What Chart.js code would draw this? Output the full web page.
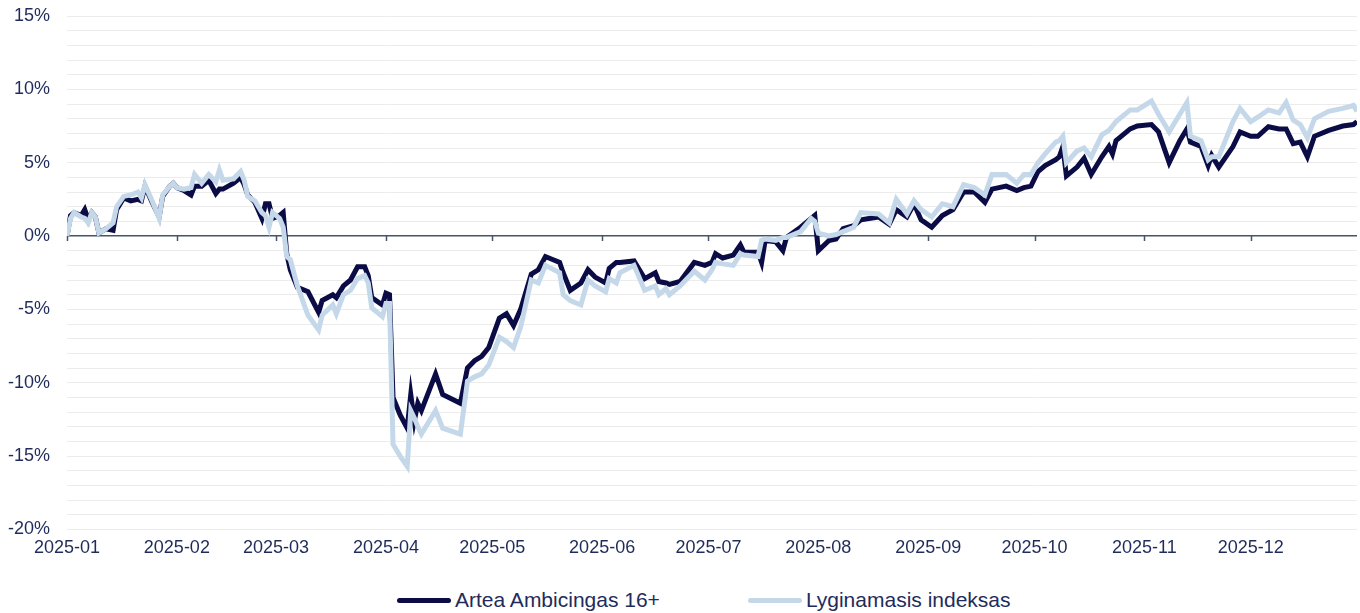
<!DOCTYPE html>
<html>
<head>
<meta charset="utf-8">
<title>Artea Ambicingas 16+</title>
<script src="https://cdn.jsdelivr.net/npm/chart.js@4.4.1/dist/chart.umd.min.js"></script>
<style>
  html, body { margin: 0; padding: 0; background: #fff; }
  #wrap { position: relative; width: 1360px; height: 571px; }
  #legend {
    position: absolute; top: 586px; left: 0; width: 1360px; height: 28px;
    display: flex; align-items: center; padding-left: 397px; box-sizing: border-box;
    font: 21px "Liberation Sans", Arial, sans-serif; color: #1f2b5b;
  }
  .item { display: flex; align-items: center; margin-right: 88px; }
  .swatch { width: 54px; height: 5px; border-radius: 3px; margin-right: 4px; }
</style>
</head>
<body>
<div id="wrap"><canvas id="chart"></canvas></div>
<div id="legend"></div>
<script>
// month axis labels
var monthLabels = ['2025-01', '2025-02', '2025-03', '2025-04', '2025-05', '2025-06',
                   '2025-07', '2025-08', '2025-09', '2025-10', '2025-11', '2025-12'];

// observation dates (2025)
var dates = [
  '01-01','01-02','01-03','01-05','01-06','01-07','01-08','01-09','01-10','01-12','01-14','01-15',
  '01-17','01-19','01-21','01-22','01-23','01-25','01-27','01-28','01-30','01-31',
  '02-01','02-03','02-05','02-06','02-08','02-10','02-12','02-13','02-14','02-17','02-19','02-20',
  '02-21','02-23','02-25','02-26','02-27','02-28',
  '03-02','03-03','03-04','03-05','03-07','03-10','03-13','03-14','03-17','03-18','03-20','03-22',
  '03-24','03-26','03-27','03-28','03-31',
  '04-01','04-02','04-03','04-05','04-07','04-08','04-09','04-10','04-11','04-15','04-17','04-22',
  '04-24','04-26','04-28','04-30',
  '05-03','05-05','05-07','05-09','05-12','05-14','05-16','05-20','05-21','05-23','05-26','05-28','05-30',
  '06-02','06-03','06-05','06-06','06-10','06-13','06-16','06-17','06-19','06-20','06-23','06-27','06-30',
  '07-02','07-03','07-05','07-08','07-10','07-11','07-15','07-16','07-17','07-20','07-22','07-23',
  '07-27','07-30','07-31',
  '08-01','08-04','08-06','08-08','08-11','08-13','08-18','08-21','08-23','08-26','08-28','08-30',
  '09-02','09-05','09-08','09-11','09-14','09-17','09-19','09-23','09-26','09-28','09-30',
  '10-02','10-04','10-07','10-08','10-09','10-10','10-13','10-15','10-17','10-20','10-22','10-23',
  '10-24','10-28','10-30',
  '11-03','11-05','11-08','11-11','11-13','11-14','11-17','11-19','11-20','11-22','11-26','11-28',
  '12-01','12-03','12-06','12-09','12-11','12-13','12-15','12-17','12-19','12-23','12-27','12-30','12-31'
];

// Artea Ambicingas 16+ (%)
var artea = [
  0.0, 1.4, 1.6, 1.4, 1.8, 1.1, 1.6, 1.3, 0.2, 0.5, 0.4, 1.8,
  2.6, 2.4, 2.5, 2.4, 3.4, 2.3, 1.3, 2.7, 3.4, 3.6,
  3.3, 3.1, 2.8, 3.4, 3.4, 3.8, 2.9, 3.2, 3.2, 3.6, 4.0, 3.5,
  2.8, 2.3, 1.2, 2.2, 2.2, 1.2,
  1.4, 1.6, -1.2, -2.3, -3.5, -3.8, -5.2, -4.4, -4.0, -4.2, -3.4, -3.0,
  -2.1, -2.1, -2.7, -4.2, -4.7,
  -3.9, -4.0, -11.0, -12.2, -13.1, -10.8, -12.6, -11.4, -11.9, -9.4, -10.8, -11.4,
  -9.0, -8.5, -8.2, -7.6,
  -5.6, -5.3, -6.1, -5.0, -2.6, -2.3, -1.4, -1.8, -2.5, -3.7, -3.2, -2.3, -2.8,
  -3.2, -2.2, -1.8, -1.8, -1.7, -2.9, -2.5, -3.1, -3.2, -3.3, -3.1, -1.8, -2.0,
  -1.8, -1.2, -1.5, -1.3, -0.6, -1.1, -1.1, -1.8, -0.3, -0.4, -1.0, -0.1,
  0.6, 1.2, 1.4,
  -1.0, -0.3, -0.2, 0.5, 0.7, 1.1, 1.3, 0.8, 1.8, 1.3, 2.2, 1.1,
  0.6, 1.4, 1.8, 3.0, 3.0, 2.3, 3.2, 3.4, 3.1, 3.3, 3.4,
  4.4, 4.8, 5.2, 5.4, 6.1, 4.1, 4.7, 5.3, 4.2, 5.4, 6.1, 5.6,
  6.5, 7.3, 7.5,
  7.6, 7.1, 5.0, 6.5, 7.3, 6.4, 6.1, 4.8, 5.5, 4.7, 6.1, 7.1,
  6.8, 6.8, 7.45, 7.3, 7.3, 6.3, 6.4, 5.4, 6.8, 7.2, 7.5, 7.6, 7.8
];

// Lyginamasis indeksas (%)
var benchmark = [
  0.0, 1.2, 1.6, 1.3, 1.2, 0.9, 1.6, 1.3, 0.2, 0.5, 0.9, 2.0,
  2.7, 2.8, 3.0, 2.6, 3.5, 2.4, 1.2, 2.8, 3.4, 3.6,
  3.3, 3.2, 3.3, 4.2, 3.6, 4.2, 3.7, 4.5, 3.8, 3.9, 4.4, 3.8,
  2.7, 2.4, 1.6, 1.4, 0.6, 1.6,
  1.2, 0.6, -1.4, -1.6, -3.4, -5.4, -6.4, -5.4, -4.7, -5.3, -4.0, -3.7,
  -2.9, -2.7, -3.2, -4.9, -5.5,
  -4.6, -4.6, -14.2, -15.0, -15.7, -11.9, -12.4, -13.0, -13.5, -11.9, -13.1, -13.5,
  -9.9, -9.6, -9.4, -8.8,
  -6.9, -7.2, -7.6, -6.2, -3.0, -3.2, -2.0, -2.5, -4.0, -4.4, -4.7, -3.0, -3.4,
  -3.8, -2.9, -3.2, -2.5, -2.0, -3.7, -3.4, -4.0, -3.6, -4.0, -3.4, -2.4, -3.0,
  -2.3, -1.8, -1.9, -2.0, -1.2, -1.3, -1.4, -0.3, -0.2, -0.3, -0.1, -0.1,
  0.3, 1.2, 1.0,
  0.2, 0.0, 0.1, 0.3, 0.6, 1.6, 1.5, 0.9, 2.5, 1.5, 2.4, 1.8,
  1.3, 2.2, 2.0, 3.5, 3.3, 2.8, 4.2, 4.2, 3.6, 4.2, 4.2,
  5.0, 5.6, 6.4, 6.5, 6.8, 5.0, 5.8, 6.0, 5.4, 6.9, 7.2, 7.5,
  7.8, 8.6, 8.6,
  9.2, 8.3, 7.1, 8.3, 9.1, 6.8, 6.5, 5.2, 5.4, 5.4, 7.8, 8.7,
  7.8, 8.1, 8.6, 8.4, 9.1, 7.9, 7.6, 6.7, 8.0, 8.5, 8.7, 8.9, 8.5
];

var DARK = '#0b0c46';
var LIGHT = '#c5d8ea';
var TEXT = '#1f2b5b';
var ZERO = '#44546a';
var FONT = '"Liberation Sans", Arial, sans-serif';

function dayOfYear(s) {
  var p = s.split('-');
  var y = p.length === 3 ? +p[0] : 2025;
  var m = +p[p.length - 2], d = +p[p.length - 1];
  return (Date.UTC(y, m - 1, d) - Date.UTC(2025, 0, 1)) / 86400000;
}

var monthStarts = monthLabels.map(function(l) { return dayOfYear(l + '-01'); });

function points(values) {
  return dates.map(function(d, i) { return {x: dayOfYear(d), y: values[i]}; });
}

// small tick marks on the zero line at each month start
var zeroTicks = {
  id: 'zeroTicks',
  beforeDatasetsDraw: function(chart) {
    var xs = chart.scales.x, ys = chart.scales.y, ctx = chart.ctx;
    var y0 = ys.getPixelForValue(0);
    ctx.save();
    ctx.strokeStyle = ZERO;
    ctx.lineWidth = 1.5;
    xs.ticks.forEach(function(t) {
      var px = Math.round(xs.getPixelForValue(t.value)) + 0.5;
      ctx.beginPath();
      ctx.moveTo(px, y0);
      ctx.lineTo(px, y0 + 5);
      ctx.stroke();
    });
    ctx.restore();
  }
};

var chart = new Chart(document.getElementById('chart').getContext('2d'), {
  type: 'line',
  data: {
    datasets: [{
      label: 'Artea Ambicingas 16+',
      data: points(artea),
      borderColor: DARK,
      backgroundColor: DARK,
      borderWidth: 5,
      pointRadius: 0,
      tension: 0,
      order: 1
    }, {
      label: 'Lyginamasis indeksas',
      data: points(benchmark),
      borderColor: LIGHT,
      backgroundColor: LIGHT,
      borderWidth: 5,
      pointRadius: 0,
      tension: 0,
      order: 0
    }]
  },
  options: {
    responsive: true,
    maintainAspectRatio: false,
    animation: false,
    layout: { padding: { top: 16, right: 3, bottom: 4, left: 0 } },
    plugins: {
      legend: { display: false },
      tooltip: { enabled: false }
    },
    scales: {
      x: {
        type: 'linear',
        min: 0,
        max: 364,
        afterBuildTicks: function(scale) {
          scale.ticks = monthStarts.map(function(v) { return {value: v}; });
        },
        grid: { display: false, drawTicks: false },
        border: { display: false },
        ticks: {
          autoSkip: false,
          maxRotation: 0,
          padding: 8,
          color: TEXT,
          font: { family: FONT, size: 18 },
          callback: function(v) {
            var i = monthStarts.indexOf(v);
            return i >= 0 ? monthLabels[i] : '';
          }
        }
      },
      y: {
        min: -20,
        max: 15,
        afterFit: function(scale) { scale.width = 67; },
        grid: {
          drawTicks: true,
          tickLength: 17,
          tickColor: 'rgba(0,0,0,0)',
          color: function(c) { return c.tick && c.tick.value === 0 ? ZERO : '#ececec'; },
          lineWidth: function(c) { return c.tick && c.tick.value === 0 ? 1.5 : 1; }
        },
        border: { display: false },
        ticks: {
          stepSize: 1,
          autoSkip: false,
          maxTicksLimit: 50,
          padding: 0,
          color: TEXT,
          font: { family: FONT, size: 18 },
          callback: function(v) { return v % 5 === 0 ? v + '%' : ''; }
        }
      }
    }
  },
  plugins: [zeroTicks]
});

// legend under the chart, built from the datasets
var legend = document.getElementById('legend');
chart.data.datasets.forEach(function(ds) {
  var item = document.createElement('div');
  item.className = 'item';
  var sw = document.createElement('span');
  sw.className = 'swatch';
  sw.style.background = ds.borderColor;
  var tx = document.createElement('span');
  tx.textContent = ds.label;
  item.appendChild(sw);
  item.appendChild(tx);
  legend.appendChild(item);
});
</script>
</body>
</html>
